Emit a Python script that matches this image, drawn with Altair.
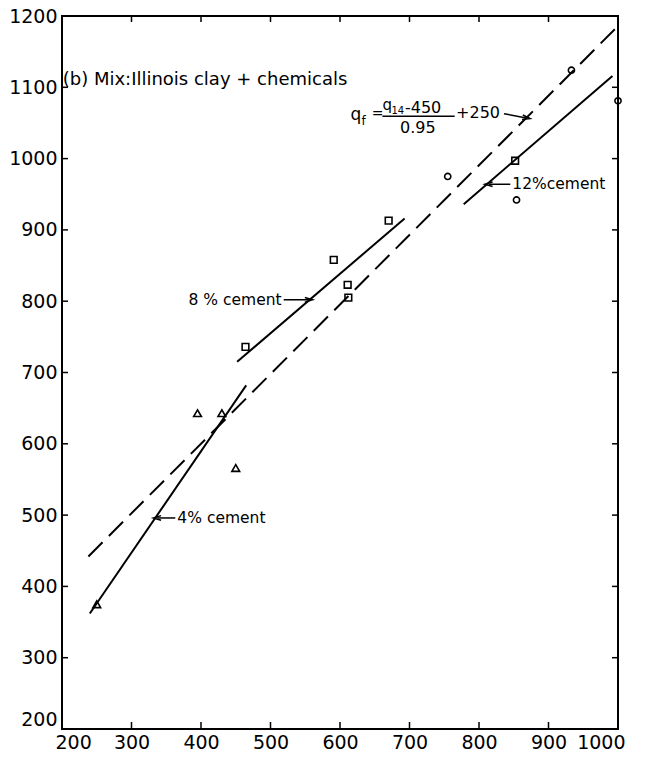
import altair as alt
import pandas as pd

FONT = "DejaVu Sans"

# Test results: 4 % cement (triangles), 8 % cement (squares), 12 % cement (circles)
tri_x = [250, 395, 430, 450]
tri_y = [375, 643, 643, 566]
sq_x = [464, 591, 611, 612, 670, 852]
sq_y = [736, 858, 823, 805, 913, 997]
circ_x = [755, 854, 933, 1000]
circ_y = [975, 942, 1124, 1081]

# Fitted lines, given by their end points
fit4_x, fit4_y = [240, 465], [362, 682]
fit8_x, fit8_y = [452, 693], [715, 916]
fit12_x, fit12_y = [778, 992], [936, 1116]
eq_x, eq_y = [238, 996], [442, 1182]

x_ticks = list(range(200, 1001, 100))
y_ticks = list(range(200, 1201, 100))

W, H = 556, 713
xs = alt.Scale(domain=[200, 1000], nice=False, zero=False)
ys = alt.Scale(domain=[200, 1200], nice=False, zero=False)

x_axis = alt.Axis(values=x_ticks, format="d", ticks=False, domain=False, grid=False, title=None,
                  labelFont=FONT, labelFontSize=19, labelColor="black",
                  labelPadding=4, labelFlush=True, labelFlushOffset=7)
y_axis = alt.Axis(values=y_ticks, format="d", ticks=False, domain=False, grid=False, title=None,
                  labelFont=FONT, labelFontSize=19, labelColor="black",
                  labelPadding=5,
                  labelBaseline={"condition": {"test": "datum.value <= 200", "value": "bottom"},
                                 "value": "middle"})


# Every layer carries the same axis definition so that they merge into one
def X(field="x"):
    return alt.X(f"{field}:Q", scale=xs, axis=x_axis)


def Y(field="y"):
    return alt.Y(f"{field}:Q", scale=ys, axis=y_axis)


def points(xv, yv, shape, size):
    df = pd.DataFrame({"x": xv, "y": yv})
    return alt.Chart(df).mark_point(shape=shape, size=size, filled=False,
                                    color="black", strokeWidth=1.6, opacity=1).encode(
        x=X(), y=Y())


def line(xv, yv, dash=None):
    df = pd.DataFrame({"x": xv, "y": yv})
    kw = {"strokeDash": dash} if dash else {}
    return alt.Chart(df).mark_line(color="black", strokeWidth=2, **kw).encode(x=X(), y=Y())


def text(t, x, y, size, align="left", baseline="middle"):
    df = pd.DataFrame({"x": [x], "y": [y], "t": [t]})
    return alt.Chart(df).mark_text(align=align, baseline=baseline, font=FONT,
                                   fontSize=size, color="black").encode(
        x=X(), y=Y(), text="t:N")


def arrow(x1, x2, y1, y2, angle=0):
    shaft = alt.Chart(pd.DataFrame({"x": [x1], "x2": [x2], "y": [y1], "y2": [y2]})).mark_rule(
        color="black", strokeWidth=1.5).encode(x=X(), x2="x2:Q", y=Y(), y2="y2:Q")
    head_path = "M-1,-0.6L1,0L-1,0.6" if x2 > x1 else "M1,-0.6L-1,0L1,0.6"
    head = alt.Chart(pd.DataFrame({"x": [x2], "y": [y2]})).mark_point(
        shape=head_path, size=60, filled=False, color="black", strokeWidth=1.5,
        angle=angle, opacity=1).encode(x=X(), y=Y())
    return shaft + head


# Inward tick marks on all four sides of the frame
xt = pd.DataFrame({"x": x_ticks})
yt = pd.DataFrame({"y": y_ticks})
tick_style = dict(color="black", strokeWidth=1.5)
ticks = (
    alt.Chart(xt).mark_rule(**tick_style).encode(x=X(), y=alt.value(H), y2=alt.value(H - 7))
    + alt.Chart(xt).mark_rule(**tick_style).encode(x=X(), y=alt.value(0), y2=alt.value(6))
    + alt.Chart(yt).mark_rule(**tick_style).encode(y=Y(), x=alt.value(0), x2=alt.value(6))
    + alt.Chart(yt).mark_rule(**tick_style).encode(y=Y(), x=alt.value(W), x2=alt.value(W - 6))
)

lines = (
    line(fit4_x, fit4_y)
    + line(fit8_x, fit8_y)
    + line(fit12_x, fit12_y)
    + line(eq_x, eq_y, dash=[20, 9])
)

marks = (
    points(tri_x, tri_y, "triangle-up", 60)
    + points(sq_x, sq_y, "square", 45)
    + points(circ_x, circ_y, "circle", 38)
)

labels = (
    text("(b) Mix:Illinois clay + chemicals", 201, 1103, 18, baseline="alphabetic")
    + text("8 % cement", 516, 802, 15.5, align="right")
    + arrow(519, 555, 802, 802)
    + text("12%cement", 848, 964, 15.5)
    + arrow(845, 814, 964, 964)
    + text("4% cement", 366, 496, 15.5)
    + arrow(363, 337, 496, 496)
    # q_f = (q14 - 450) / 0.95 + 250
    + text("q", 615, 1054, 17, baseline="alphabetic")
    + text("f", 631, 1047, 12, baseline="alphabetic")
    + text("=", 654, 1062, 14, align="center")
    + text("q", 661, 1068, 15, baseline="alphabetic")
    + text("14", 674, 1062, 10, baseline="alphabetic")
    + text("-450", 693.5, 1064, 16, baseline="alphabetic")
    + alt.Chart(pd.DataFrame({"x": [661], "x2": [765], "y": [1059.5]})).mark_rule(
        color="black", strokeWidth=1.5).encode(x=X(), x2="x2:Q", y=Y())
    + text("0.95", 712, 1036, 16, align="center", baseline="alphabetic")
    + text("+250", 767, 1057, 16, baseline="alphabetic")
    + arrow(836, 868, 1063, 1057, angle=10)
)

chart = (ticks + lines + marks + labels).properties(
    width=W, height=H,
    autosize=alt.AutoSizeParams(type="none"),
    padding={"left": 62, "top": 16, "right": 29, "bottom": 30},
    background="white",
).configure_view(stroke="black", strokeWidth=2)

chart.save("out.html", embed_options={"renderer": "svg", "actions": False})
